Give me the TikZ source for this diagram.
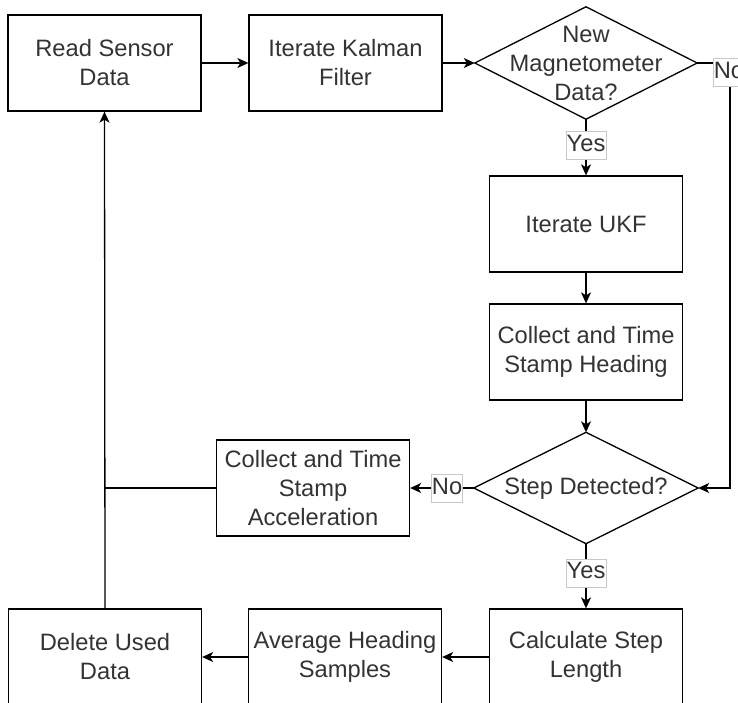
\documentclass[tikz,border=0pt]{standalone}
\usepackage{fontspec}
\setmainfont{Liberation Sans}
\usetikzlibrary{arrows.meta}
\definecolor{txt}{HTML}{333333}
\definecolor{lblframe}{HTML}{C8C8C8}
\begin{document}
\begin{tikzpicture}[x=1pt,y=-1pt,
  basefont/.style={font=\fontsize{23.7}{29}\selectfont, text=txt},
  proc/.style={basefont, draw=black, line width=1.3pt, minimum width=193pt,
    minimum height=96pt, inner sep=0pt, align=center},
  decbox/.style={basefont, minimum width=222pt, minimum height=112pt,
    inner sep=0pt, align=center},
  decline/.style={draw=black, line width=1.3pt, line join=miter},
  lbl/.style={basefont, fill=white, draw=lblframe, line width=0.6pt,
    inner xsep=0.5pt, inner ysep=1pt, text height=19pt, text depth=7pt},
  flow/.style={line width=1.3pt, -{Stealth[length=11pt,width=10pt,inset=3pt]}},
  link/.style={line width=1.3pt}]

\useasboundingbox (0,0) rectangle (738,702);

% process boxes
\node[proc] (read)    at (104.5,63) {Read Sensor\\Data};
\node[proc] (kalman)  at (345.5,63) {Iterate Kalman\\Filter};
\node[proc] (ukf)     at (586,224)  {Iterate UKF};
\node[proc] (heading) at (586,352)  {Collect and Time\\Stamp Heading};
\node[proc] (accel)   at (313,488)  {Collect and Time\\Stamp\\Acceleration};
\node[proc] (calc)    at (586,657)  {Calculate Step\\Length};
\node[proc] (avg)     at (345,657)  {Average Heading\\Samples};
\node[proc] (delete)  at (105,657)  {Delete Used\\Data};

% decisions
\node[decbox] (mag)  at (586,63)  {New\\Magnetometer\\Data?};
\draw[decline] (mag.north) -- (mag.east) -- (mag.south) -- (mag.west) -- cycle;
\node[decbox, minimum width=224pt, minimum height=111pt] (step) at (586,488) {Step Detected?};
\draw[decline] (step.north) -- (step.east) -- (step.south) -- (step.west) -- cycle;

% connectors
\coordinate (bend) at (730,63);
\coordinate (join) at (delete.north |- accel.west);

\draw[flow] (read.east) -- (kalman.west);
\draw[flow] (kalman.east) -- (mag.west);
\draw[flow] (mag.south) -- node[lbl, pos=0.47] (yes1) {Yes} (ukf.north);
\draw[flow] (mag.east) -- (bend) |- (step.east);
\node[lbl] (no1) at (729,72) {No};
\draw[flow] (ukf.south) -- (heading.north);
\draw[flow] (heading.south) -- (step.north);
\draw[flow] (step.west) -- node[lbl, pos=0.42] (no2) {No} (accel.east);
\draw[flow] (step.south) -- node[lbl, pos=0.45] (yes2) {Yes} (calc.north);
\draw[flow] (calc.west) -- (avg.east);
\draw[flow] (avg.west) -- (delete.east);
\draw[flow] (delete.north) -- (read.south);
\draw[link] (accel.west) -- (join);

\end{tikzpicture}
\end{document}
